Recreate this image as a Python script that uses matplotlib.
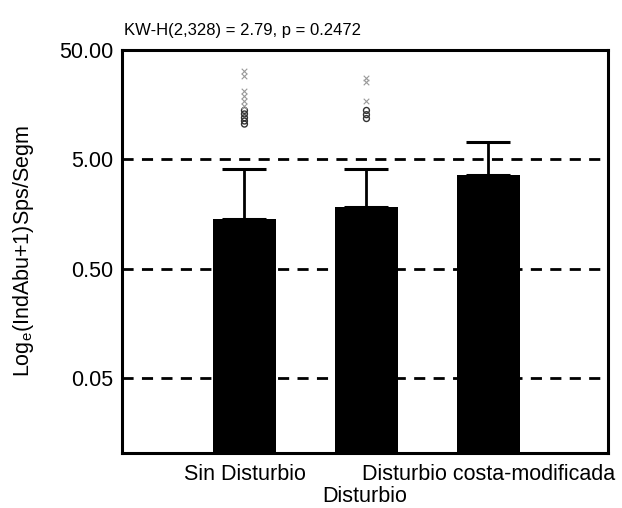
import matplotlib
matplotlib.use("Agg")
import matplotlib.pyplot as plt

# === DATA ===
categories = ["Sin Disturbio", "Disturbio", "Disturbio costa-modificada"]
tick_labels = ["Sin Disturbio", "", "Disturbio costa-modificada"]
means = [1.43, 1.83, 3.58]
upper = [4.06, 4.06, 7.13]
outliers_circ = [[14.0, 13.0, 12.0, 11.2, 10.5], [14.0, 12.8, 11.8], []]
extremes = [[32.0, 29.0, 21.0, 19.0, 17.0, 15.5], [28.0, 25.5, 17.0], []]
yticks = [0.05, 0.5, 5.0, 50.0]

plt.rcParams['font.family'] = ['Liberation Sans', 'DejaVu Sans']

fig = plt.figure(figsize=(6.22, 5.08), dpi=100)
ax = fig.add_axes([0.1961, 0.1083, 0.7814, 0.7933])

x = list(range(len(categories)))
ax.bar(x, means, width=0.516, color="black", zorder=3)
errs = [[0] * len(means), [u - m for u, m in zip(upper, means)]]
ax.errorbar(x, means, yerr=errs, fmt="none", ecolor="black", elinewidth=2,
            capsize=16, capthick=2.2, zorder=4)

for i in x:
    ax.scatter([i] * len(outliers_circ[i]), outliers_circ[i], s=18, marker="o",
               facecolors="none", edgecolors="#333333", linewidths=1.0, zorder=5)
    ax.scatter([i] * len(extremes[i]), extremes[i], s=16, marker="x",
               color="#999999", linewidths=0.8, zorder=5)

for t in yticks[:-1]:
    ax.axhline(t, color="black", linestyle=(0, (4, 3)), linewidth=2, zorder=2)

ax.set_yscale("log")
ax.set_ylim(0.0103, 50)
ax.set_xlim(-1.004, 2.98)
ax.set_yticks(yticks)
ax.set_yticklabels(["%.2f" % t for t in yticks], fontsize=15.5)
ax.minorticks_off()
ax.set_xticks(x)
ax.set_xticklabels(tick_labels, fontsize=15.5)
ax.tick_params(axis="both", length=0)
ax.tick_params(axis="x", pad=8)
ax.tick_params(axis="y", pad=6.5)
for s in ax.spines.values():
    s.set_linewidth(2.2)

ax.set_xlabel("Disturbio", fontsize=15.5, labelpad=1)
ax.set_ylabel("Log$_\\mathregular{e}$(IndAbu+1)Sps/Segm", fontsize=15.5, labelpad=16)
fig.text(0.2, 0.939, "KW-H(2,328) = 2.79, p = 0.2472", fontsize=12, va="center")

fig.savefig("out.png", dpi=100)
